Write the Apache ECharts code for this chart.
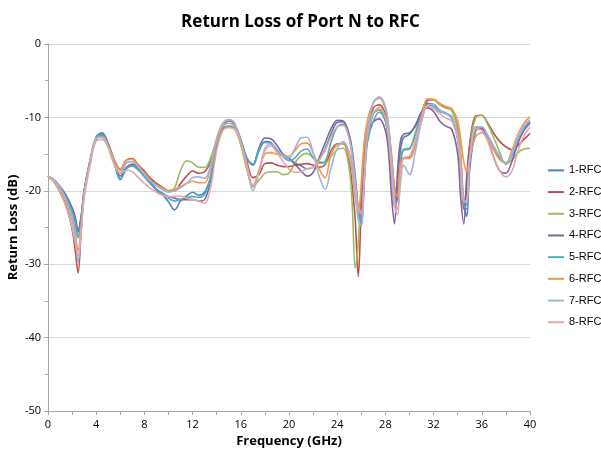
<!DOCTYPE html>
<html>
<head>
<meta charset="utf-8">
<script src="https://cdn.jsdelivr.net/npm/echarts@6/dist/echarts.min.js"></script>
<style>html,body{margin:0;padding:0;background:#fff}#c{width:601px;height:453px}</style>
</head>
<body>
<div id="c"></div>
<script>
const freq = [0,0.5,1,1.5,2,2.25,2.5,2.75,3,3.5,
  4,4.5,5,5.5,6,6.5,7,7.5,8,8.5,
  9,9.5,10,10.5,11,11.5,12,12.5,13,13.5,
  14,14.5,15,15.5,16,16.5,17,17.5,18,18.5,
  19,19.5,20,20.5,21,21.5,22,22.5,23,23.5,
  24,24.5,25,25.25,25.5,25.75,26,26.25,26.5,27,
  27.5,28,28.25,28.5,28.75,29,29.25,29.5,30,30.5,
  31,31.5,32,32.5,33,33.5,34,34.25,34.5,34.75,
  35,35.5,36,36.5,37,37.5,38,38.5,39,39.5,
  40];
const rfc1 = [-18,-18.6,-19.6,-21,-22.6,-23.8,-25.6,-23.5,-20,-15.8,
  -12.6,-12.1,-13.6,-16.2,-18.4,-17,-16.4,-17,-18,-18.8,
  -19.8,-20.5,-21.5,-22.6,-21.4,-20.7,-20.2,-20.6,-20.2,-18,
  -13.5,-11.2,-10.5,-11,-13,-15.5,-16.5,-14.6,-13.3,-13.4,
  -14.5,-15.3,-15.6,-16.2,-16.6,-17,-16.8,-15.8,-14.3,-12.2,
  -10.7,-10.6,-12.4,-14.5,-18,-22.5,-24.8,-18,-13,-9.5,
  -9,-10.5,-13,-17,-22,-20,-14.5,-12.8,-12.3,-11,
  -9.2,-8.1,-8.2,-9,-9.4,-10,-13,-17,-21.5,-23.5,
  -17,-11.8,-11.5,-12.6,-14,-15.5,-16.2,-15.2,-13,-11.5,
  -10.6];
const rfc2 = [-18,-18.8,-20.2,-22,-25.2,-28,-31.2,-25.5,-20.2,-16,
  -12.9,-12.5,-13.6,-15.8,-17.1,-15.8,-15.6,-16.5,-17.3,-18.3,
  -19,-19.5,-20,-20,-19,-18,-17.3,-17.6,-17.4,-16,
  -13.2,-11.5,-11.3,-11.6,-13.3,-16,-18.2,-17.8,-16.3,-16.2,
  -16.5,-16.7,-16.7,-16.5,-16.4,-16.3,-16.5,-16.8,-16.4,-14.5,
  -13.6,-13.6,-16,-19.5,-24,-31.7,-22,-15,-11.8,-8.7,
  -8.3,-9.5,-11.5,-15,-19.5,-21.2,-17,-15.5,-15.5,-13.5,
  -10.5,-7.7,-7.6,-8.2,-8.7,-9,-11.5,-15.5,-22.5,-19.5,
  -13.5,-9.8,-9.7,-10.8,-12.2,-13.3,-14,-14.4,-13.8,-13,
  -12.2];
const rfc3 = [-18,-18.6,-19.8,-21.2,-23.5,-25,-26.4,-24,-20.3,-16,
  -12.9,-12.4,-13.8,-16,-17.6,-16.2,-16,-16.8,-17.6,-18.6,
  -19.3,-19.8,-20,-19.6,-17.2,-15.9,-16.2,-16.8,-16.8,-15.5,
  -13,-11.3,-11.3,-11.6,-13.8,-17,-19.4,-18.6,-17.6,-17.4,
  -17.4,-17.8,-17.6,-16.2,-15.2,-14.9,-15.5,-16,-16.2,-15.3,
  -14.4,-14.2,-17,-22,-30.5,-27,-19,-13.5,-11,-9.3,
  -8.9,-10,-12,-15.5,-19.5,-20.3,-16,-14.3,-14.2,-12,
  -9.5,-7.5,-7.6,-8.3,-8.7,-9,-11.5,-15,-21,-22,
  -14,-10,-9.7,-11,-12.8,-14.8,-16.4,-15.8,-14.8,-14.3,
  -14.2];
const rfc4 = [-18,-18.5,-19.4,-20.6,-22.3,-23.5,-25.4,-23.5,-20,-15.8,
  -12.8,-12.3,-13.8,-16.2,-18,-16.8,-16.4,-17,-18,-19,
  -19.9,-20.4,-20.8,-21,-21.2,-21.2,-21.2,-21.4,-21.2,-18.5,
  -13.8,-11.5,-11.2,-11.4,-13.2,-15.6,-16.4,-14.2,-12.8,-12.9,
  -13.8,-15,-15.6,-16.4,-17.3,-18,-17.5,-15.5,-13.5,-11.5,
  -10.4,-10.5,-12.6,-15.5,-20,-22.9,-21,-15,-12,-10.6,
  -10.2,-11.8,-14.5,-20.5,-24.5,-17.5,-13.2,-12.3,-12.1,-11.2,
  -9.3,-8.7,-9.2,-10.5,-11.2,-11.6,-15,-21,-24.5,-18,
  -14,-11.3,-11.5,-13,-15.5,-17.3,-17.6,-16,-13.5,-11.8,
  -10.8];
const rfc5 = [-18,-18.5,-19.5,-20.9,-22.8,-24.2,-26.3,-24,-20.2,-15.9,
  -12.7,-12.4,-13.8,-16.3,-18.5,-17,-16.6,-17.2,-18.1,-19,
  -19.8,-20.3,-21,-21.4,-21.2,-20.9,-20.8,-20.9,-20.5,-18,
  -13.6,-11.4,-11.2,-11.3,-13.2,-15.6,-16.5,-14.5,-13.4,-13.6,
  -14.5,-15.3,-15.9,-15.5,-14.6,-14.3,-15.5,-16.2,-16,-13.3,
  -11.3,-10.9,-12.8,-15,-18.5,-22.5,-24.4,-19,-13.5,-10.5,
  -9.3,-10.5,-12.8,-17,-21.5,-21.5,-16.5,-14.5,-14.3,-12.3,
  -9.6,-8.3,-8.5,-9.2,-9.5,-10,-12.8,-17,-21.8,-22.5,
  -16,-11.8,-11.3,-12.5,-14.2,-15.6,-16.2,-15.2,-13,-11.5,
  -10.6];
const rfc6 = [-18,-18.6,-19.8,-21.4,-24,-25.8,-28.1,-25,-20.4,-16,
  -12.9,-12.6,-13.9,-16,-17.2,-15.8,-15.7,-16.6,-17.6,-18.6,
  -19.2,-19.6,-20,-19.8,-19.4,-19,-18.7,-18.9,-18.9,-16.8,
  -13.2,-11.2,-10.8,-11.2,-13.5,-17,-19.5,-17.2,-15,-14.8,
  -15,-15.2,-15.3,-14.5,-13.6,-13.5,-14.8,-17,-18.2,-15,
  -13.7,-13.5,-15.5,-17.5,-21,-23,-19.5,-13.5,-10.5,-8,
  -7.4,-8.8,-11,-15.5,-20,-20.8,-16.5,-15.6,-15.6,-13.5,
  -10,-7.5,-7.5,-8.1,-8.5,-8.8,-10.5,-13,-16,-17.4,
  -15.5,-12.6,-12.1,-13,-14.5,-15.8,-16.2,-14.5,-12.3,-10.8,
  -9.9];
const rfc7 = [-18,-18.5,-19.6,-21.2,-23.8,-26,-29.7,-25.5,-20.5,-16,
  -12.8,-12.7,-14,-16.3,-17.6,-16.2,-16,-16.8,-17.8,-18.7,
  -19.3,-19.8,-20.2,-20,-19.6,-19,-18.2,-18.1,-18.3,-16.5,
  -12.8,-10.8,-10.3,-10.8,-13.3,-16.5,-20,-17.6,-14.2,-13.6,
  -14.3,-15.2,-15.5,-14.2,-12.8,-12.7,-14.8,-18,-19.8,-16.8,
  -14.2,-13.3,-14.8,-17,-20.5,-24,-24.8,-18.5,-12,-8,
  -7.2,-8.5,-11,-15.5,-21,-22.5,-19,-16.5,-17.8,-14.5,
  -10.5,-8.3,-8.2,-9,-9.5,-9.8,-12.5,-16,-21.3,-21.5,
  -15.5,-11.3,-11.3,-12.5,-14,-15.3,-16.3,-15,-12.8,-11.2,
  -10.3];
const rfc8 = [-18,-18.8,-20.2,-22.2,-25,-27,-28.8,-25.5,-21,-16.5,
  -13.2,-13,-14.2,-16.5,-17.6,-17.2,-17.4,-18.2,-19,-19.7,
  -20.2,-20.6,-20.8,-20.8,-20.7,-21,-21.2,-21.4,-21.7,-19.5,
  -14.5,-11.8,-11.4,-11.6,-13.5,-16.5,-19.2,-17.5,-14.5,-13.9,
  -14.8,-16,-17,-17.5,-17.4,-17,-16.8,-15.8,-14.5,-12.6,
  -11.3,-11.1,-13,-15.5,-19,-22.5,-23,-18,-12.5,-9.5,
  -8.6,-10,-12.5,-17,-22,-23.3,-18,-15.5,-15.3,-13,
  -10.2,-8.5,-8.8,-9.5,-10.1,-10.5,-13,-17,-21.5,-21.5,
  -15.5,-11.5,-11.8,-13.3,-15.5,-17.3,-18.1,-17.3,-14.5,-12.5,
  -11.3];
const seriesNames = ['1-RFC','2-RFC','3-RFC','4-RFC','5-RFC','6-RFC','7-RFC','8-RFC'];
const seriesValues = [rfc1, rfc2, rfc3, rfc4, rfc5, rfc6, rfc7, rfc8];
const palette = ['#4F81BD','#C0504D','#9BBB59','#8064A2','#4BACC6','#F79646','#9DB5DC','#E5A6A5'];
const xTicks = [0,4,8,12,16,20,24,28,32,36,40];
const yTicks = [0,-10,-20,-30,-40,-50];

const FONT = "'Open Sans', 'Liberation Sans', sans-serif";
const chart = echarts.init(document.getElementById('c'), null, {renderer: 'canvas'});
chart.setOption({
  animation: false,
  backgroundColor: '#ffffff',
  color: palette,
  title: {
    text: 'Return Loss of Port N to RFC',
    left: 'center', top: 9,
    textStyle: {fontFamily: FONT, fontWeight: 'bold', fontSize: 17, color: '#000'}
  },
  legend: {
    orient: 'vertical', left: 543, top: 157,
    icon: 'rect',
    itemWidth: 16, itemHeight: 2, itemGap: 5,
    textStyle: {fontFamily: "'Liberation Sans', sans-serif", fontSize: 11, color: '#000', lineHeight: 16.7},
    data: seriesNames
  },
  grid: {left: 48, right: 71, top: 44, bottom: 42, containLabel: false, outerBoundsMode: 'none'},
  xAxis: {
    type: 'value', min: 0, max: 40, interval: 4,
    name: 'Frequency (GHz)', nameLocation: 'middle', nameGap: 24,
    nameTextStyle: {fontFamily: FONT, fontWeight: 'bold', fontSize: 13, color: '#000'},
    axisLine: {onZero: false, lineStyle: {color: '#A6A6A6', width: 1}},
    axisTick: {show: true, length: 4, lineStyle: {color: '#A6A6A6'}},
    minorTick: {show: true, splitNumber: 2, length: 4, lineStyle: {color: '#A6A6A6'}},
    axisLabel: {fontFamily: FONT, fontSize: 11, color: '#000', margin: 8,
      formatter: v => xTicks.includes(v) ? String(v) : ''},
    splitLine: {show: false}
  },
  yAxis: {
    type: 'value', min: -50, max: 0, interval: 10,
    name: 'Return Loss (dB)', nameLocation: 'middle', nameGap: 28, nameRotate: 90,
    nameMoveOverlap: false,
    nameTextStyle: {fontFamily: FONT, fontWeight: 'bold', fontSize: 13, color: '#000'},
    axisLine: {show: true, lineStyle: {color: '#A6A6A6', width: 1}},
    axisTick: {show: true, length: 4, lineStyle: {color: '#A6A6A6'}},
    minorTick: {show: true, splitNumber: 2, length: 3, lineStyle: {color: '#A6A6A6'}},
    axisLabel: {fontFamily: FONT, fontSize: 11, color: '#000', margin: 7,
      formatter: v => yTicks.includes(v) ? String(v) : ''},
    splitLine: {show: true, lineStyle: {color: '#D9D9D9', width: 1}}
  },
  series: seriesValues.map((vals, k) => ({
    name: seriesNames[k], type: 'line', symbol: 'none', smooth: 0.35,
    lineStyle: {width: 1.6, color: palette[k]},
    itemStyle: {color: palette[k]},
    data: freq.map((f, i) => [f, vals[i]])
  }))
});
</script>
</body>
</html>
